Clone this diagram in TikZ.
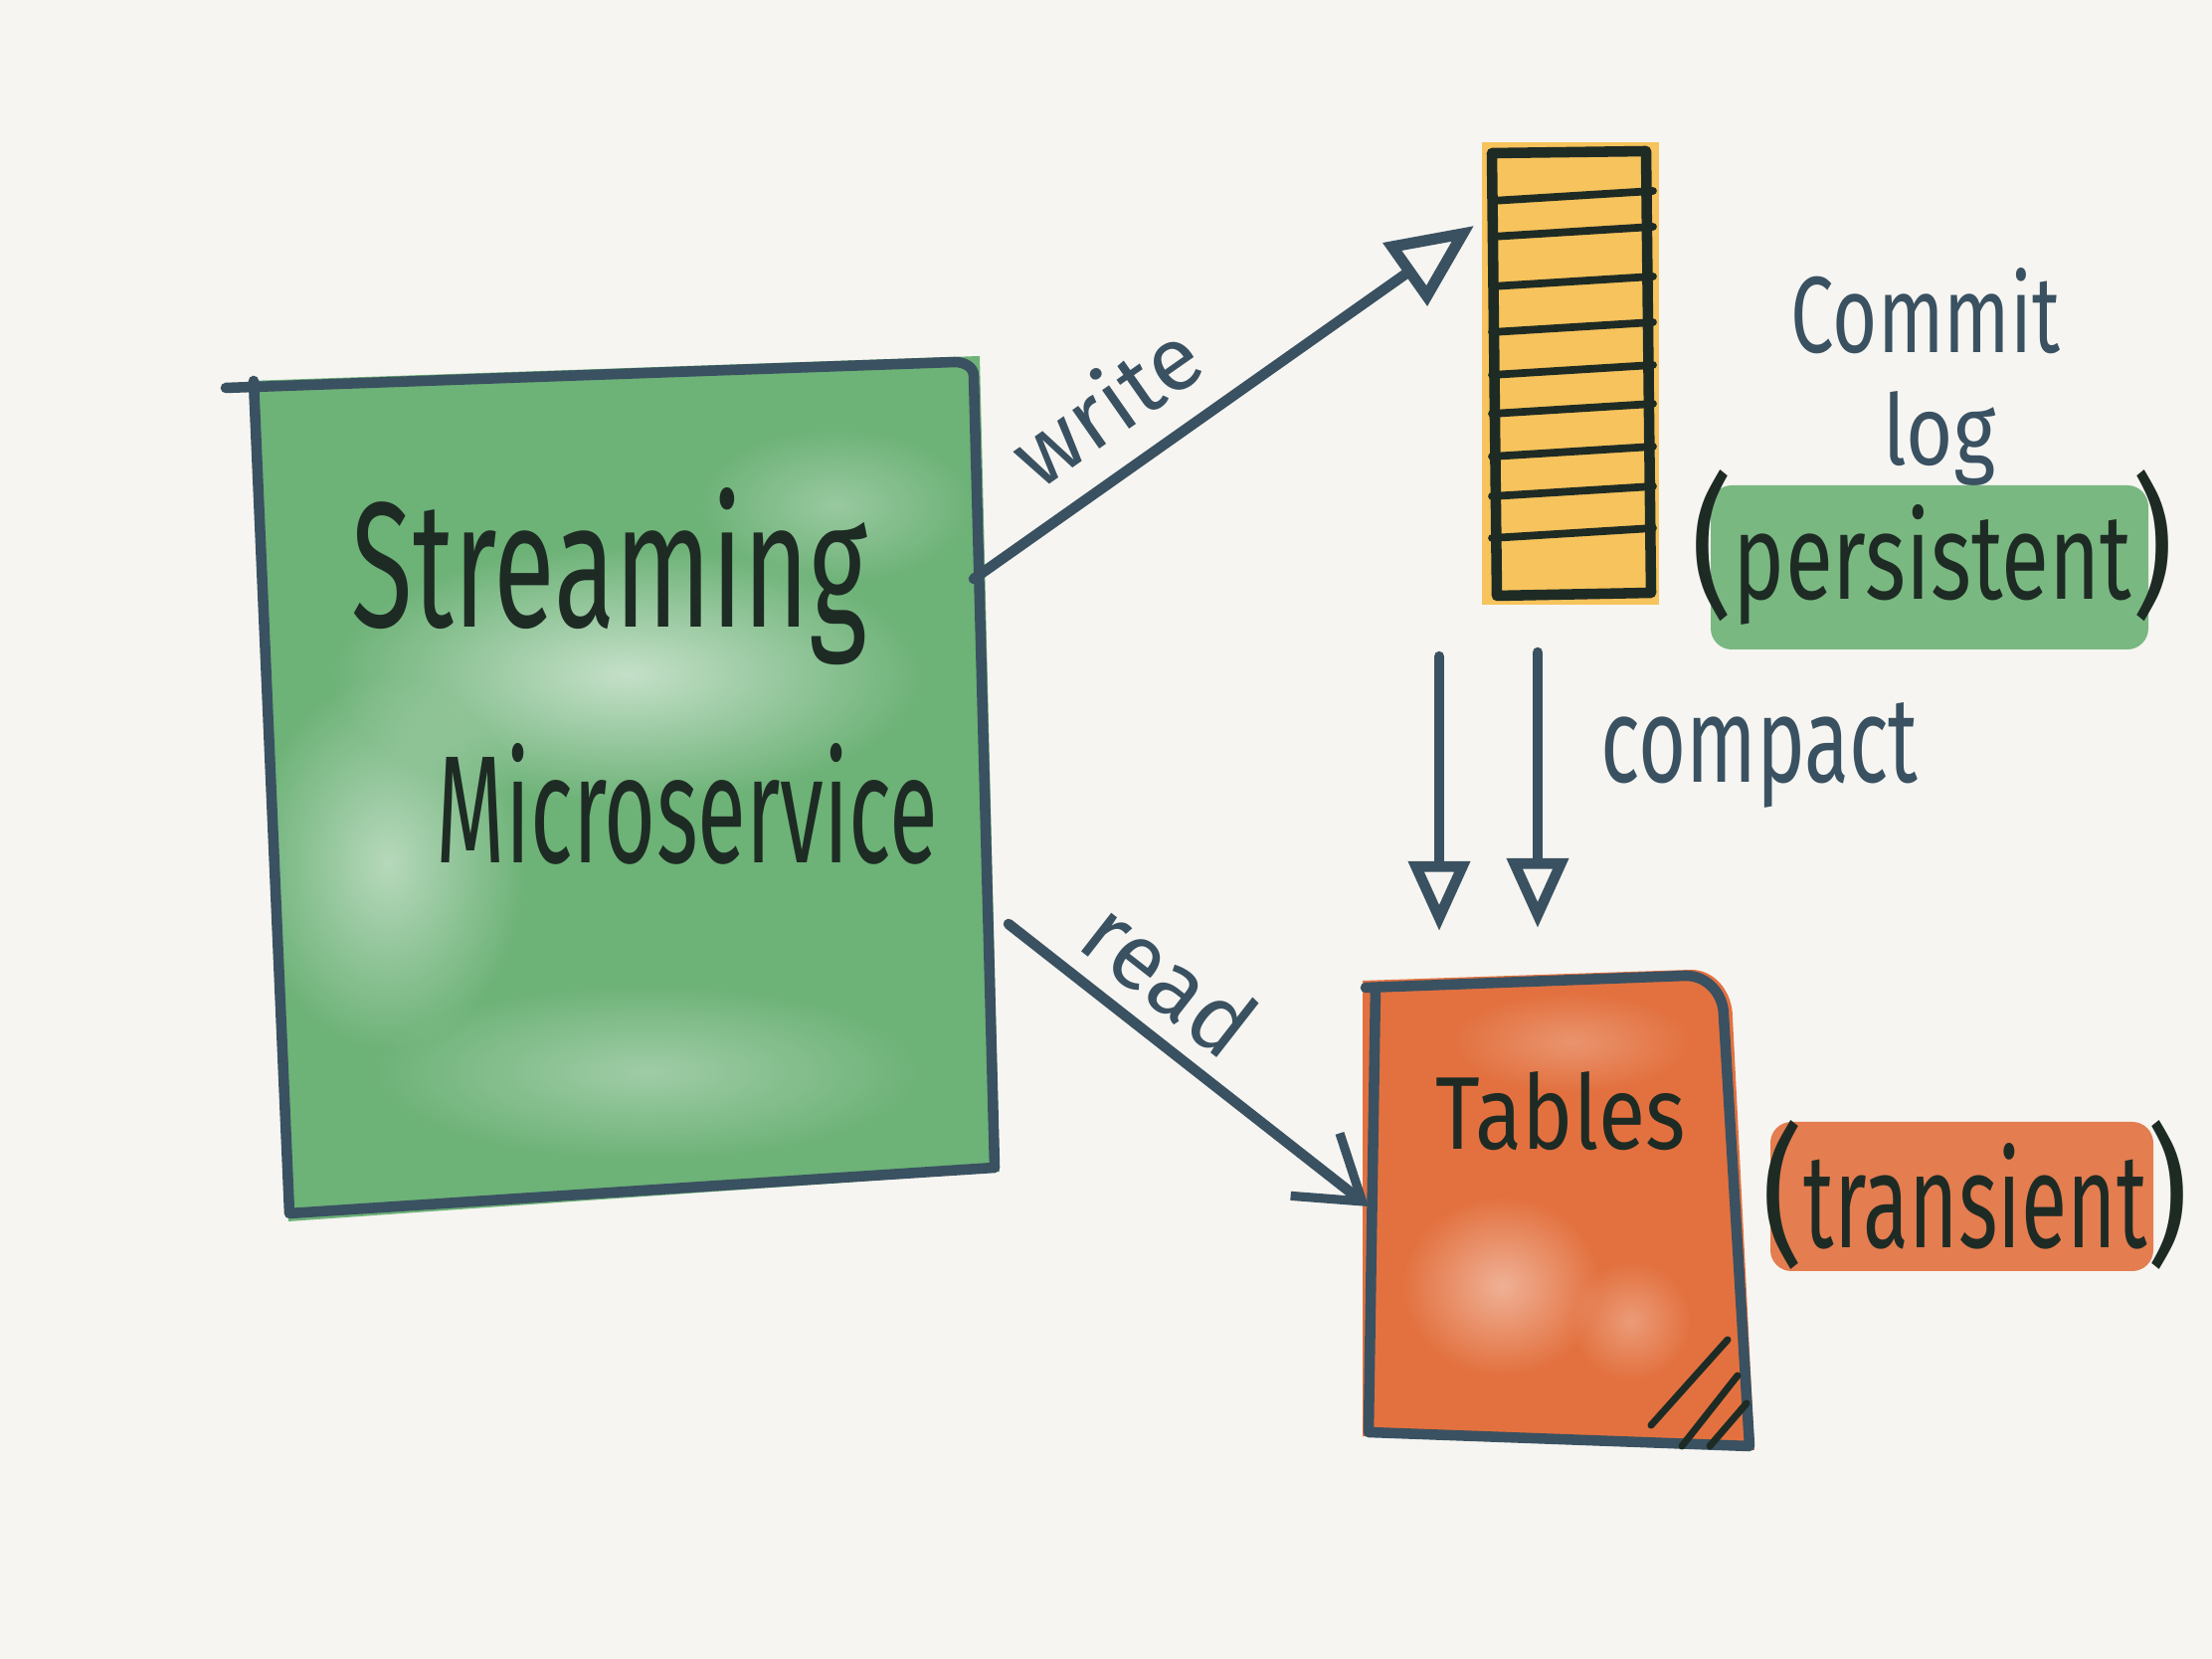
\documentclass[tikz,border=0pt]{standalone}
\usepackage{fontspec}
\setmainfont{Fira Sans}
\usetikzlibrary{arrows.meta,fadings}
\definecolor{paper}{HTML}{F6F5F1}
\definecolor{ink}{HTML}{3A5161}
\definecolor{textink}{HTML}{1E2B24}
\definecolor{washgreen}{HTML}{6DB277}
\definecolor{washyellow}{HTML}{F6C35C}
\definecolor{washorange}{HTML}{E3713F}
\newcommand{\hand}[3]{\resizebox{#1}{#2}{#3}}
\tikzfading[name=softblob,inner color=transparent!0,outer color=transparent!100]

\begin{document}
\begin{tikzpicture}[line cap=round,line join=round,
  sketch/.style={ink,line width=3pt},
  hand/.style={inner sep=0pt,anchor=base},
  blob/.style={white,path fading=softblob},
  openhead/.style={-{Triangle[open,length=7mm,width=6mm,line width=3pt]}}]
\useasboundingbox (0,0) rectangle (22.24,16.68);
\fill[paper] (0,0) rectangle (22.24,16.68);

% Streaming microservice
\fill[washgreen] (2.5,12.85) -- (9.85,13.1) -- (10.05,4.9) -- (2.9,4.4) -- cycle;
\fill[blob,opacity=0.6] (6.3,9.9) ellipse (3.0 and 1.3);
\fill[blob,opacity=0.5] (3.9,8.0) ellipse (1.4 and 1.9);
\fill[blob,opacity=0.35] (6.5,5.9) ellipse (2.8 and 0.9);
\fill[blob,opacity=0.3] (8.4,11.6) ellipse (1.4 and 0.8);
\draw[sketch] (2.27,12.78) -- (9.6,13.04) to[out=0,in=90] (9.79,12.9) -- (10.0,4.94) -- (2.91,4.48) -- (2.55,12.85);
\node[hand,text=textink] (streaming) at (6.13,10.37) {\hand{5.18cm}{1.4cm}{Streaming}};
\node[hand,text=textink] (microservice) at (6.91,8.0) {\hand{5.04cm}{1.2cm}{Microservice}};

% Commit log
\fill[washyellow] (14.9,15.25) rectangle (16.68,10.6);
\draw[textink,line width=3pt] (15.0,15.14) -- (16.55,15.16) -- (16.6,10.72) -- (15.05,10.69) -- cycle;
\foreach \y in {14.66,14.30,13.80,13.34,12.91,12.52,12.09,11.69,11.27}
  \draw[textink,line width=2.2pt] (15.0,\y) -- (16.62,\y+0.1);
\node[hand,text=ink] (commit) at (19.36,13.13) {\hand{2.7cm}{0.85cm}{Commit}};
\node[hand,text=ink] (log) at (19.5,12.0) {\hand{1.13cm}{0.74cm}{log}};
\fill[washgreen,rounded corners=6pt,opacity=0.9] (17.2,10.15) rectangle (21.6,11.8);
\node[hand,text=textink] (persistent) at (19.43,10.65)
  {\hand{0.42cm}{1.3cm}{(}\hand{4.0cm}{0.95cm}{persistent}\hand{0.42cm}{1.3cm}{)}};

% Tables
\fill[washorange] (13.7,6.82) -- (17.0,6.93) to[out=0,in=90] (17.42,6.45) -- (17.64,2.1) -- (13.7,2.24) -- cycle;
\fill[blob,opacity=0.45] (15.1,3.75) ellipse (1.0 and 0.9);
\fill[blob,opacity=0.3] (16.4,3.4) ellipse (0.6 and 0.6);
\fill[blob,opacity=0.25] (15.8,6.2) ellipse (1.2 and 0.5);
\draw[sketch] (13.73,6.75) -- (16.95,6.87) to[out=0,in=90] (17.33,6.47) -- (17.59,2.14) -- (13.76,2.28) -- (13.83,6.75);
\draw[textink,line width=2pt] (16.6,2.35) -- (17.37,3.21) (16.91,2.14) -- (17.47,2.85) (17.19,2.14) -- (17.56,2.57);
\node[hand,text=textink] (tables) at (15.69,5.12) {\hand{2.51cm}{0.78cm}{Tables}};
\fill[washorange,rounded corners=6pt,opacity=0.9] (17.8,3.9) rectangle (21.65,5.4);
\node[hand,text=textink] (transient) at (19.86,4.13)
  {\hand{0.42cm}{1.28cm}{(}\hand{3.45cm}{1.05cm}{transient}\hand{0.42cm}{1.28cm}{)}};

% Connectors
\coordinate (svc-write) at (9.79,10.86);
\coordinate (log-in) at (14.82,14.41);
\coordinate (svc-read) at (10.14,7.39);
\coordinate (tables-in) at (13.76,4.55);
\coordinate (log-out-a) at (14.47,10.08);
\coordinate (tables-top-a) at (14.47,7.32);
\coordinate (log-out-b) at (15.46,10.12);
\coordinate (tables-top-b) at (15.46,7.35);
\draw[sketch,-{Triangle[open,length=8.5mm,width=7.5mm,line width=3.2pt]}] (svc-write) -- (log-in);
\draw[sketch,-{Straight Barb[length=6mm,width=8mm,line width=2.6pt]}] (svc-read) -- (tables-in);
\draw[sketch,openhead] (log-out-a) -- (tables-top-a);
\draw[sketch,openhead] (log-out-b) -- (tables-top-b);

% Labels
\node[inner sep=0pt,text=ink,rotate=35] (write) at (11.11,12.62) {\hand{2.1cm}{0.7cm}{write}};
\node[inner sep=0pt,text=ink,rotate=-38] (read) at (11.77,6.85) {\hand{1.9cm}{0.7cm}{read}};
\node[hand,text=ink] (compact) at (17.69,8.81) {\hand{3.19cm}{0.8cm}{compact}};
\end{tikzpicture}
\end{document}
